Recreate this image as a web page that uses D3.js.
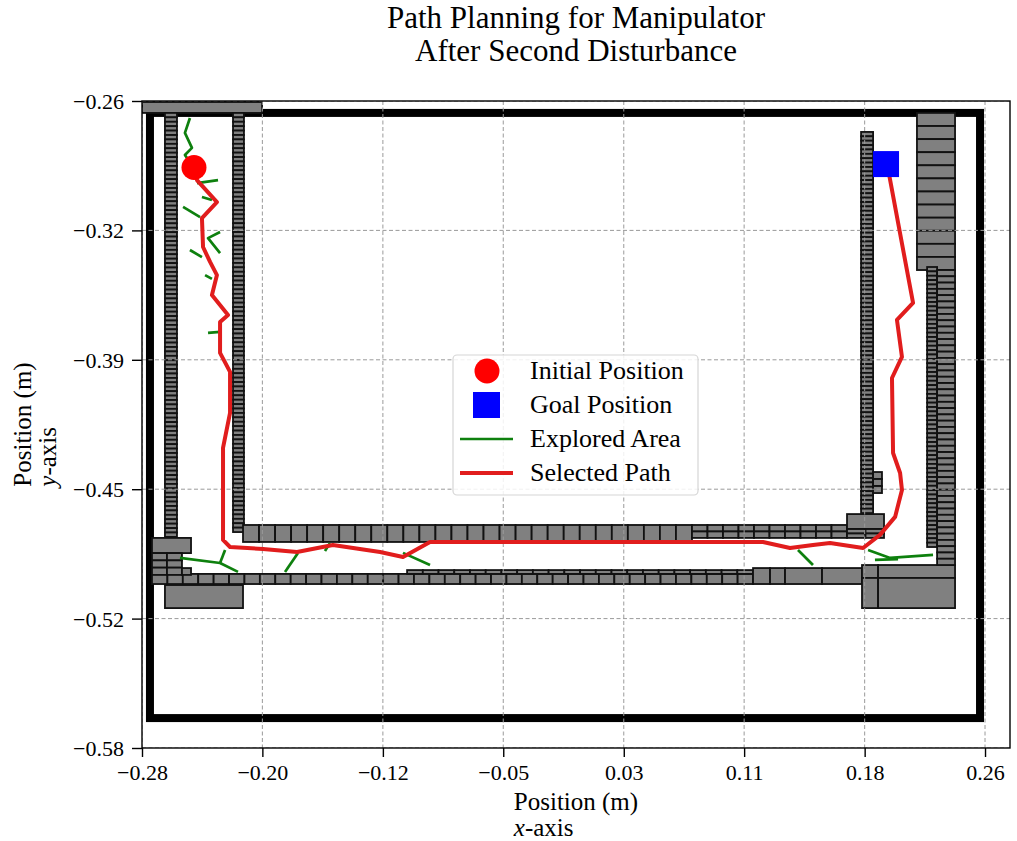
<!DOCTYPE html>
<html>
<head>
<meta charset="utf-8">
<script src="https://cdn.jsdelivr.net/npm/d3@7"></script>
<style>
  html, body { margin: 0; padding: 0; background: #fff; }
  svg { display: block; font-family: "Liberation Serif", "DejaVu Serif", serif; }
</style>
</head>
<body>
<div id="vis"></div>
<script>
// ---- data (metres) ----
const xTicks = [-0.28, -0.2029, -0.1257, -0.0486, 0.0286, 0.1057, 0.1829, 0.26];
const xTickLabels = ["\u22120.28", "\u22120.20", "\u22120.12", "\u22120.05", "0.03", "0.11", "0.18", "0.26"];
const yTicks = [-0.26, -0.324, -0.388, -0.452, -0.516, -0.58];
const yTickLabels = ["\u22120.26", "\u22120.32", "\u22120.39", "\u22120.45", "\u22120.52", "\u22120.58"];

// workspace boundary [xMin, xMax, yTop, yBottom]
const boundary = [-0.2749, 0.2568, -0.2659, -0.5652];

// obstacle strips [xMin, xMax, yTop, yBottom, cols, rows]
const obstacles = [
  [-0.2800, -0.2031, -0.2605, -0.2659, 1, 1],
  [-0.2653, -0.2576, -0.2659, -0.4756, 1, 96],
  [-0.2621, -0.2557, -0.4836, -0.4944, 1, 5],
  [-0.2217, -0.2147, -0.2659, -0.4732, 1, 95],
  [-0.2153, 0.0723, -0.4697, -0.4781, 28, 1],
  [0.0723, 0.1716, -0.4697, -0.4761, 10, 2],
  [0.1716, 0.1953, -0.4643, -0.4717, 1, 1],
  [0.1716, 0.1953, -0.4717, -0.4761, 2, 2],
  [-0.2736, 0.1114, -0.4939, -0.4989, 39, 1],
  [-0.1102, 0.1114, -0.4920, -0.4939, 22, 1],
  [0.1114, 0.1223, -0.4910, -0.4989, 1, 1],
  [0.1223, 0.1319, -0.4910, -0.4989, 1, 1],
  [0.1319, 0.1556, -0.4910, -0.4989, 1, 1],
  [0.1556, 0.1812, -0.4910, -0.4989, 1, 1],
  [-0.2653, -0.2153, -0.4994, -0.5108, 1, 1],
  [-0.2736, -0.2486, -0.4761, -0.4836, 1, 1],
  [-0.2736, -0.2544, -0.4836, -0.4944, 2, 3],
  [-0.2544, -0.2486, -0.4910, -0.4944, 1, 1],
  [0.1812, 0.1915, -0.4895, -0.4959, 1, 1],
  [0.1915, 0.2408, -0.4895, -0.4959, 1, 1],
  [0.1812, 0.1915, -0.4959, -0.5108, 1, 1],
  [0.1915, 0.2408, -0.4959, -0.5108, 1, 1],
  [0.2164, 0.2408, -0.2659, -0.3436, 1, 12],
  [0.2229, 0.2293, -0.3421, -0.4806, 1, 64],
  [0.2293, 0.2408, -0.3436, -0.4895, 1, 47],
  [0.1806, 0.1883, -0.2753, -0.4638, 1, 87],
  [0.1883, 0.1940, -0.4435, -0.4539, 1, 3]
];

const initialPos = [-0.2467, -0.2929];
const goalPos = [0.1966, -0.2912];

// explored tree branches
const explored = [
  [[-0.2493, -0.2684], [-0.2525, -0.2758], [-0.2480, -0.2832], [-0.2525, -0.2867], [-0.2473, -0.2926]],
  [[-0.2448, -0.3006], [-0.2313, -0.2991]],
  [[-0.2416, -0.3075], [-0.2352, -0.3090]],
  [[-0.2537, -0.3124], [-0.2428, -0.3174]],
  [[-0.2300, -0.3248], [-0.2377, -0.3278], [-0.2300, -0.3352]],
  [[-0.2493, -0.3337], [-0.2416, -0.3372]],
  [[-0.2396, -0.3461], [-0.2352, -0.3480]],
  [[-0.2377, -0.3747], [-0.2300, -0.3742]],
  [[-0.2557, -0.4860], [-0.2300, -0.4885], [-0.2185, -0.4929]],
  [[-0.2300, -0.4885], [-0.2268, -0.4821]],
  [[-0.1884, -0.4929], [-0.1801, -0.4835]],
  [[-0.1628, -0.4826], [-0.1596, -0.4786]],
  [[-0.1128, -0.4835], [-0.0955, -0.4895]],
  [[0.1402, -0.4821], [0.1498, -0.4895]],
  [[0.1851, -0.4821], [0.1992, -0.4860], [0.2267, -0.4845]],
  [[0.1895, -0.4870], [0.2043, -0.4866]]
];

// selected path, start -> goal
const selectedPath = [
  [-0.2460, -0.2926], [-0.2448, -0.2991], [-0.2320, -0.3100], [-0.2416, -0.3179],
  [-0.2409, -0.3322], [-0.2364, -0.3396], [-0.2320, -0.3461], [-0.2352, -0.3560],
  [-0.2249, -0.3658], [-0.2300, -0.3693], [-0.2300, -0.3846], [-0.2236, -0.3940],
  [-0.2236, -0.4143], [-0.2281, -0.4316], [-0.2281, -0.4771], [-0.2236, -0.4806],
  [-0.2025, -0.4816], [-0.1807, -0.4831], [-0.1577, -0.4796], [-0.1275, -0.4831],
  [-0.1128, -0.4855], [-0.0955, -0.4781], [-0.0315, -0.4781], [0.1178, -0.4781],
  [0.1351, -0.4811], [0.1498, -0.4796], [0.1607, -0.4786], [0.1819, -0.4811],
  [0.1927, -0.4746], [0.2024, -0.4657], [0.2068, -0.4524], [0.2056, -0.4440],
  [0.2011, -0.4341], [0.2004, -0.3970], [0.2068, -0.3866], [0.2036, -0.3683],
  [0.2139, -0.3599], [0.1972, -0.2907]
];

const legendLabels = ["Initial Position", "Goal Position", "Explored Area", "Selected Path"];

// ---- layout ----
const W = 1017, H = 841;
const L = 142, R = 1010, T = 101, B = 748;

const svg = d3.select("#vis").append("svg")
  .attr("width", W).attr("height", H);

const x = d3.scaleLinear().domain([-0.28, 0.276]).range([L, R]);
const y = d3.scaleLinear().domain([-0.26, -0.58]).range([T, B]);

svg.append("defs").append("clipPath").attr("id", "plotclip")
  .append("rect").attr("x", L).attr("y", T).attr("width", R - L).attr("height", B - T);

const plot = svg.append("g").attr("clip-path", "url(#plotclip)");

// boundary
plot.append("rect")
  .attr("x", x(boundary[0])).attr("y", y(boundary[2]))
  .attr("width", x(boundary[1]) - x(boundary[0]))
  .attr("height", y(boundary[3]) - y(boundary[2]))
  .attr("fill", "none").attr("stroke", "#000").attr("stroke-width", 8);

// obstacle cells
const cells = [];
obstacles.forEach(function (o) {
  const dx = (o[1] - o[0]) / o[4], dy = (o[3] - o[2]) / o[5];
  for (let c = 0; c < o[4]; c++) {
    for (let r = 0; r < o[5]; r++) {
      cells.push([o[0] + c * dx, o[0] + (c + 1) * dx, o[2] + r * dy, o[2] + (r + 1) * dy]);
    }
  }
});
plot.append("g").selectAll("rect")
  .data(cells).enter().append("rect")
  .attr("x", d => x(d[0])).attr("y", d => y(d[2]))
  .attr("width", d => x(d[1]) - x(d[0]))
  .attr("height", d => y(d[3]) - y(d[2]))
  .attr("fill", "#808080").attr("stroke", "#111").attr("stroke-width", 1.8);

// grid
const grid = plot.append("g")
  .attr("stroke", "#9a9a9a").attr("stroke-width", 1).attr("stroke-dasharray", "4,2.5");
grid.selectAll("line.gx").data(xTicks).enter().append("line")
  .attr("x1", d => x(d)).attr("x2", d => x(d)).attr("y1", T).attr("y2", B);
grid.selectAll("line.gy").data(yTicks).enter().append("line")
  .attr("y1", d => y(d)).attr("y2", d => y(d)).attr("x1", L).attr("x2", R);

const line = d3.line().x(d => x(d[0])).y(d => y(d[1]));

// explored area
plot.append("g").selectAll("path")
  .data(explored).enter().append("path")
  .attr("d", line).attr("fill", "none")
  .attr("stroke", "#0e800e").attr("stroke-width", 2.7).attr("stroke-linejoin", "round");

// selected path
plot.append("path").datum(selectedPath)
  .attr("d", line).attr("fill", "none")
  .attr("stroke", "#e11d1d").attr("stroke-width", 4).attr("stroke-linejoin", "round");

// start / goal
plot.append("circle")
  .attr("cx", x(initialPos[0])).attr("cy", y(initialPos[1])).attr("r", 12.5)
  .attr("fill", "#ff0000");
plot.append("rect")
  .attr("x", x(goalPos[0]) - 13).attr("y", y(goalPos[1]) - 13)
  .attr("width", 26).attr("height", 26).attr("fill", "#0000ff");

// frame
svg.append("rect").attr("x", L).attr("y", T).attr("width", R - L).attr("height", B - T)
  .attr("fill", "none").attr("stroke", "#000").attr("stroke-width", 1.4);

// axes
const xAxis = svg.append("g").attr("transform", "translate(0," + B + ")")
  .call(d3.axisBottom(x).tickValues(xTicks).tickFormat((d, i) => xTickLabels[i]).tickSizeOuter(0).tickSize(9));
const yAxis = svg.append("g").attr("transform", "translate(" + L + ",0)")
  .call(d3.axisLeft(y).tickValues(yTicks).tickFormat((d, i) => yTickLabels[i]).tickSizeOuter(0).tickSize(10));

[xAxis, yAxis].forEach(function (a) {
  a.select("path.domain").remove();
  a.selectAll(".tick line").attr("stroke", "#000").attr("stroke-width", 1.4);
  a.selectAll(".tick text").attr("fill", "#000")
    .style("font-family", "Liberation Serif").style("font-size", "22px");
});
xAxis.selectAll(".tick text").attr("y", 32).attr("dy", 0);
yAxis.selectAll(".tick text").attr("x", -18).attr("dy", "0.34em");

// title
const title = svg.append("g").attr("text-anchor", "middle").style("font-size", "31px");
title.append("text").attr("x", (L + R) / 2).attr("y", 28).text("Path Planning for Manipulator");
title.append("text").attr("x", (L + R) / 2).attr("y", 61).text("After Second Disturbance");

// x label (lines left-aligned within a centred block)
const xl1 = svg.append("text").attr("x", (L + R) / 2).attr("y", 810)
  .attr("text-anchor", "middle").style("font-size", "25px").text("Position (m)");
const w1 = xl1.node().getComputedTextLength();
const xl2 = svg.append("text").attr("x", (L + R) / 2 - w1 / 2).attr("y", 836).style("font-size", "25px");
xl2.append("tspan").style("font-style", "italic").text("x");
xl2.append("tspan").text("-axis");

// y label
const yl = svg.append("g").attr("transform", "translate(31," + (T + B) / 2 + ") rotate(-90)");
const yl1 = yl.append("text").attr("text-anchor", "middle").style("font-size", "25px").text("Position (m)");
const w2 = yl1.node().getComputedTextLength();
const yl2 = yl.append("text").attr("x", -w2 / 2).attr("y", 25).style("font-size", "25px");
yl2.append("tspan").style("font-style", "italic").text("y");
yl2.append("tspan").text("-axis");

// legend
const lg = svg.append("g");
lg.append("rect").attr("x", 453).attr("y", 355).attr("width", 245).attr("height", 140)
  .attr("rx", 4).attr("fill", "#fff").attr("fill-opacity", 0.85)
  .attr("stroke", "#d6d6d6").attr("stroke-width", 1.2);
const rows = lg.selectAll("g.item").data(legendLabels).enter().append("g")
  .attr("transform", (d, i) => "translate(0," + (371 + i * 34) + ")");
rows.append("text").attr("x", 530).attr("y", 8).style("font-size", "26px").text(d => d);
rows.filter((d, i) => i === 0).append("circle").attr("cx", 487).attr("cy", 0).attr("r", 12.5).attr("fill", "#ff0000");
rows.filter((d, i) => i === 1).append("rect").attr("x", 473).attr("y", -13).attr("width", 27).attr("height", 26).attr("fill", "#0000ff");
rows.filter((d, i) => i === 2).append("line").attr("x1", 460).attr("x2", 513)
  .attr("stroke", "#0e800e").attr("stroke-width", 2.7);
rows.filter((d, i) => i === 3).append("line").attr("x1", 460).attr("x2", 513)
  .attr("stroke", "#e11d1d").attr("stroke-width", 4);
</script>
</body>
</html>
